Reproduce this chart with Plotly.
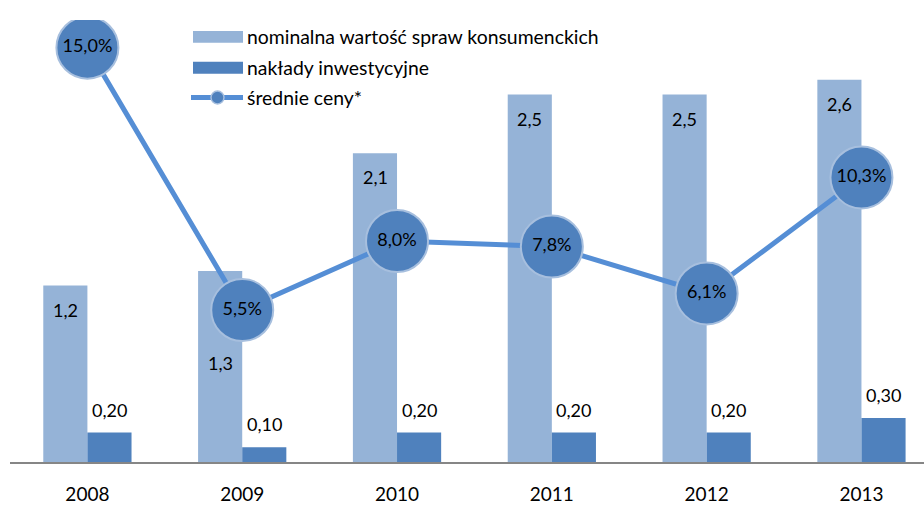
import plotly.graph_objects as go

# data
years = ["2008", "2009", "2010", "2011", "2012", "2013"]
nominal_value = [1.2, 1.3, 2.1, 2.5, 2.5, 2.6]
investments = [0.20, 0.10, 0.20, 0.20, 0.20, 0.30]
avg_prices = [15.0, 5.5, 8.0, 7.8, 6.1, 10.3]
series_names = ["nominalna wartość spraw konsumenckich", "nakłady inwestycyjne", "średnie ceny*"]

light_blue = "#95B3D7"
dark_blue = "#4F81BD"
line_blue = "#558ED5"
border_blue = "#A7BFDE"
font_family = "Lato, 'Open Sans', sans-serif"

W, H = 924, 505
M = dict(l=10, r=0, t=20, b=40)


def pl_num(v, digits):
    return f"{v:.{digits}f}".replace(".", ",")


# pixel -> paper coords (used for the hand-drawn legend)
def px(x):
    return (x - M["l"]) / (W - M["l"] - M["r"])


def py(y):
    return (H - M["b"] - y) / (H - M["t"] - M["b"])


fig = go.Figure()

fig.add_trace(go.Bar(
    x=years,
    y=nominal_value,
    name=series_names[0],
    marker=dict(color=light_blue, line=dict(width=0)),
))

fig.add_trace(go.Bar(
    x=years,
    y=investments,
    name=series_names[1],
    marker=dict(color=dark_blue, line=dict(width=0)),
))

fig.add_trace(go.Scatter(
    x=years,
    y=avg_prices,
    name=series_names[2],
    yaxis="y2",
    mode="lines+markers+text",
    line=dict(color=line_blue, width=5),
    marker=dict(size=62, color=dark_blue, line=dict(color=border_blue, width=2)),
    text=[pl_num(v, 1) + "%" for v in avg_prices],
    textposition="middle center",
    textfont=dict(size=18, color="#000000", family=font_family),
))

# value labels for the bars (2009 label sits lower to clear the circle)
nominal_shift = [-24, -92, -24, -24, -24, -24]
annotations = []
for i, yr in enumerate(years):
    annotations.append(dict(
        x=i, y=nominal_value[i], xref="x", yref="y",
        text=pl_num(nominal_value[i], 1), showarrow=False,
        xshift=-22, yshift=nominal_shift[i],
        font=dict(size=18, color="#000000", family=font_family),
    ))
    annotations.append(dict(
        x=i, y=investments[i], xref="x", yref="y",
        text=pl_num(investments[i], 2), showarrow=False,
        xshift=22, yshift=23,
        font=dict(size=18, color="#000000", family=font_family),
    ))

# legend drawn by hand to get the wide swatches of the original
legend_rows = [37, 68, 98]
shapes = [
    dict(type="rect", xref="paper", yref="paper",
         x0=px(193), x1=px(243), y0=py(43), y1=py(31),
         fillcolor=light_blue, line=dict(width=0), layer="above"),
    dict(type="rect", xref="paper", yref="paper",
         x0=px(193), x1=px(243), y0=py(74), y1=py(62),
         fillcolor=dark_blue, line=dict(width=0), layer="above"),
    dict(type="line", xref="paper", yref="paper",
         x0=px(191), x1=px(243), y0=py(98), y1=py(98),
         line=dict(color=line_blue, width=5), layer="above"),
    dict(type="circle", xref="paper", yref="paper",
         x0=px(211), x1=px(224), y0=py(104.5), y1=py(91.5),
         fillcolor=dark_blue, line=dict(color=border_blue, width=1.5), layer="above"),
]
for name, row in zip(series_names, legend_rows):
    annotations.append(dict(
        x=px(245), y=py(row), xref="paper", yref="paper",
        xanchor="left", yanchor="middle", text=name, showarrow=False,
        font=dict(size=19.4, color="#000000", family=font_family),
    ))

fig.update_layout(
    width=W,
    height=H,
    margin=M,
    paper_bgcolor="white",
    plot_bgcolor="white",
    barmode="group",
    bargap=0.43,
    bargroupgap=0,
    font=dict(family=font_family, size=18, color="#000000"),
    showlegend=False,
    xaxis=dict(
        type="category",
        range=[-0.5, 5.404],
        showgrid=False,
        showline=True,
        linecolor="#868686",
        linewidth=2,
        ticks="",
        ticklabelstandoff=14,
        tickfont=dict(size=19, family=font_family),
    ),
    yaxis=dict(
        range=[0, 3.007],
        showgrid=False,
        zeroline=False,
        showticklabels=False,
        showline=False,
    ),
    yaxis2=dict(
        range=[0, 16.0],
        overlaying="y",
        side="right",
        showgrid=False,
        zeroline=False,
        showticklabels=False,
        showline=False,
    ),
    annotations=annotations,
    shapes=shapes,
)

fig.write_html(
    "out.html",
    config=dict(displayModeBar=False),
    post_script="document.body.style.margin='0';",
)
